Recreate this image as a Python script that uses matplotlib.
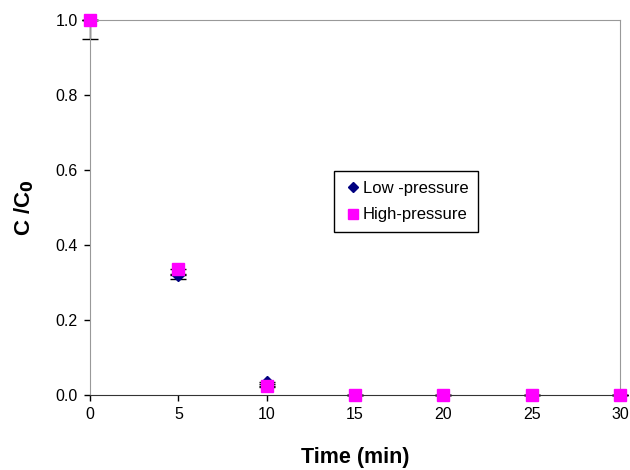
import matplotlib.pyplot as plt
import numpy as np

time = [0, 5, 10, 15, 20, 25, 30]
low = [1.0, 0.32, 0.035, 0.0, 0.0, 0.0, 0.0]
low_err = [0.05, 0.01, 0.005, 0.0, 0.0, 0.0, 0.0]
high = [1.0, 0.335, 0.025, 0.0, 0.0, 0.0, 0.0]
high_err = [0.0, 0.012, 0.004, 0.0, 0.0, 0.0, 0.0]

plt.rcParams['font.family'] = ['Liberation Sans', 'DejaVu Sans']

fig = plt.figure(figsize=(6.3, 4.7), dpi=100)
ax = fig.add_axes([0.1429, 0.1596, 0.8413, 0.7979])

zeros = [0] * len(time)
ax.errorbar(time, low, yerr=[low_err, zeros], fmt='none', ecolor='black',
            elinewidth=1, capsize=6, clip_on=False, zorder=2)
ax.errorbar(time, high, yerr=[high_err, zeros], fmt='none', ecolor='black',
            elinewidth=1, capsize=6, clip_on=False, zorder=2)
ax.plot(time, low, 'D', color='#000080', markersize=6, label='Low -pressure',
        clip_on=False, zorder=3)
ax.plot(time, high, 's', color='#FF00FF', markersize=9, label='High-pressure',
        clip_on=False, zorder=4)

ax.set_xlim(0, 30)
ax.set_ylim(0, 1.0)
ax.set_xticks(np.arange(0, 31, 5))
yt = np.arange(0, 1.01, 0.2)
ax.set_yticks(yt)
ax.set_yticklabels(['%.1f' % v for v in yt])
ax.tick_params(direction='out', length=4, labelsize=11.5, width=1, pad=5)

for s in ['top', 'right', 'left']:
    ax.spines[s].set_color('#999999')
ax.spines['bottom'].set_color('#333333')

ax.set_xlabel('Time (min)', fontsize=15.5, fontweight='bold', labelpad=18)
ax.set_ylabel('C /C$_\\mathbf{0}$', fontsize=16, fontweight='bold', labelpad=14)

ax.legend(loc='upper left', bbox_to_anchor=(0.445, 0.62), frameon=True,
          fancybox=False, edgecolor='black', fontsize=12, handletextpad=0.1,
          handlelength=1.0, borderpad=0.6, labelspacing=0.7, framealpha=1,
          markerscale=0.8)

fig.savefig('out.png', dpi=100)
